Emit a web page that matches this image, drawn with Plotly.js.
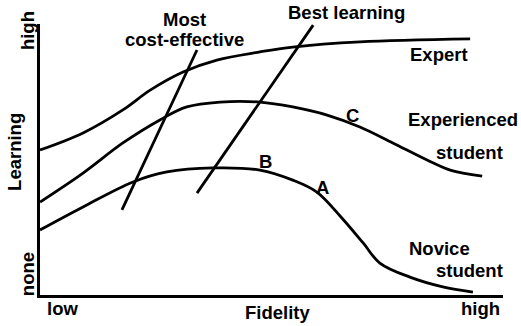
<!DOCTYPE html>
<html>
<head>
<meta charset="utf-8">
<script src="https://cdn.plot.ly/plotly-3.0.1.min.js"></script>
<style>
  html, body { margin: 0; padding: 0; background: #fff; }
  #chart { width: 521px; height: 326px; }
</style>
</head>
<body>
<div id="chart"></div>
<script>
// Fidelity (0 = low, 100 = high) vs Learning (0 = none, 100 = high)
const expertX = [0, 9.3, 17.9, 23.8, 30.9, 38.2, 47.5, 54.6, 69.1, 92.9];
const expertY = [53.5, 59.8, 68.3, 75.6, 82.3, 86.7, 89.7, 91.5, 93.4, 94.5];

const experiencedX = [0, 9.3, 17.9, 25.9, 31.7, 38.9, 47.5, 54.6, 62.0, 69.1, 76.2, 83.6, 88.6, 95.5];
const experiencedY = [34.3, 45.0, 56.1, 64.6, 69.4, 71.2, 71.2, 69.4, 66.4, 62.0, 56.1, 49.8, 46.1, 43.9];

const noviceX = [0, 9.3, 20.1, 27.4, 37.4, 47.5, 54.6, 59.8, 65.0, 69.8, 73.4, 79.9, 87.0, 93.5];
const noviceY = [24.0, 32.5, 41.7, 45.4, 46.9, 46.1, 42.4, 38.0, 28.8, 19.2, 11.8, 6.6, 3.0, 1.1];

// optimum lines across the three curves
const costEffX = [17.7, 33.9];
const costEffY = [31.4, 90.4];
const bestX = [33.9, 59.0];
const bestY = [37.6, 99.6];

// labels on the drawing (same 0-100 units as the curves)
const labelText = ['Most', 'cost-effective', 'Best learning', 'Expert', 'C',
  'Experienced', 'student', 'B', 'A', 'Novice', 'student'];
const labelX = [31.3, 31.3, 66.3, 86.2, 67.6, 91.4, 92.7, 48.6, 61.1, 86.2, 92.7];
const labelY = [101.5, 94.1, 104.1, 88.6, 66.4, 64.6, 52.4, 49.1, 39.5, 17.3, 9.2];

const font = { family: 'Arial, "Liberation Sans", sans-serif', size: 18.5, color: '#000', weight: 'bold' };

function curve(x, y, shape) {
  return {
    x: x, y: y, type: 'scatter', mode: 'lines',
    line: { color: '#000', width: 2.8, shape: shape, smoothing: 1 },
    cliponaxis: false, hoverinfo: 'skip'
  };
}

const traces = [
  curve(expertX, expertY, 'spline'),
  curve(experiencedX, experiencedY, 'spline'),
  curve(noviceX, noviceY, 'spline'),
  curve(costEffX, costEffY, 'linear'),
  curve(bestX, bestY, 'linear')
];

function label(text, x, y, angle) {
  return {
    text: text, x: x, y: y, xref: 'paper', yref: 'paper',
    xanchor: 'center', yanchor: 'middle', showarrow: false,
    textangle: angle || 0, font: font
  };
}

// axes span 0-100, so paper position = value / 100
const annotations = labelText.map((t, i) => label(t, labelX[i] / 100, labelY[i] / 100));

// axis end labels and titles
annotations.push(
  label('low', 0.048, -0.05),
  label('high', 0.952, -0.05),
  label('Fidelity', 0.514, -0.066),
  label('none', -0.028, 0.077, -90),
  label('high', -0.028, 0.974, -90),
  label('Learning', -0.054, 0.528, -90)
);

const axis = {
  range: [0, 100], showline: true, linecolor: '#000', linewidth: 3,
  showgrid: false, zeroline: false, showticklabels: false, ticks: '', fixedrange: true
};

const layout = {
  width: 521, height: 326,
  margin: { l: 40, r: 18, t: 24, b: 31 },
  paper_bgcolor: '#fff', plot_bgcolor: '#fff',
  showlegend: false,
  xaxis: Object.assign({}, axis),
  yaxis: Object.assign({}, axis),
  annotations: annotations
};

Plotly.newPlot('chart', traces, layout, { displayModeBar: false, staticPlot: true });
</script>
</body>
</html>
